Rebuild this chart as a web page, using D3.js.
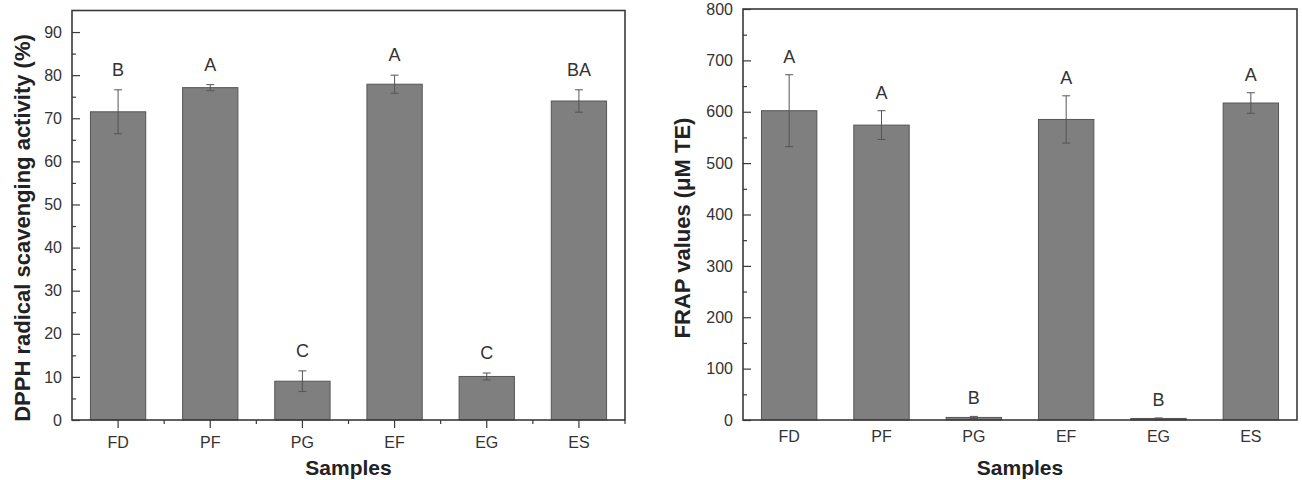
<!DOCTYPE html>
<html>
<head>
<meta charset="utf-8">
<script src="https://cdn.jsdelivr.net/npm/d3@7"></script>
<style>
  html, body { margin: 0; padding: 0; background: #fff; }
  svg { display: block; font-family: "Liberation Sans", Arial, sans-serif; }
</style>
</head>
<body>
<svg id="chart" width="1302" height="480"></svg>
<script>
// ---- data ----
const categories = ["FD", "PF", "PG", "EF", "EG", "ES"];

const dpphValues = [71.5, 77.1, 9.0, 77.9, 10.1, 74.0];
const dpphErrors = [5.1, 0.7, 2.4, 2.1, 0.8, 2.6];
const dpphLetters = ["B", "A", "C", "A", "C", "BA"];
const dpphTicks = [0, 10, 20, 30, 40, 50, 60, 70, 80, 90];

const frapValues = [602, 574, 5, 585, 3, 617];
const frapErrors = [70, 28, 2, 46, 1, 20];
const frapLetters = ["A", "A", "B", "A", "B", "A"];
const frapTicks = [0, 100, 200, 300, 400, 500, 600, 700, 800];

// ---- drawing ----
const svg = d3.select("#chart");
const axisColor = "#3a3a3a";
const textColor = "#333";
const barFill = "#7f7f7f";
const barStroke = "#555";

function drawPanel(opt) {
  const { left, right, top, bottom, yMax, ticks, minorStep, values, errors, letters,
          yTitle, xTicks, letterGap, titleX, xLabelPad } = opt;
  const g = svg.append("g");
  const x = d3.scaleBand().domain(categories).range([left, right]).paddingInner(0).paddingOuter(0);
  const y = d3.scaleLinear().domain([0, yMax]).range([bottom, top]);
  const bw = x.bandwidth() * 0.6;

  // bars
  g.selectAll("rect.bar").data(categories).join("rect")
    .attr("x", d => x(d) + (x.bandwidth() - bw) / 2)
    .attr("y", (d, i) => y(values[i]))
    .attr("width", bw)
    .attr("height", (d, i) => y(0) - y(values[i]))
    .attr("fill", barFill)
    .attr("stroke", barStroke)
    .attr("stroke-width", 1);

  // error bars
  const eb = g.selectAll("g.err").data(categories).join("g");
  eb.append("line")
    .attr("x1", d => x(d) + x.bandwidth() / 2).attr("x2", d => x(d) + x.bandwidth() / 2)
    .attr("y1", (d, i) => y(values[i] + errors[i])).attr("y2", (d, i) => y(values[i] - errors[i]))
    .attr("stroke", "#555").attr("stroke-width", 1);
  [1, -1].forEach(s => {
    eb.append("line")
      .attr("x1", d => x(d) + x.bandwidth() / 2 - 4).attr("x2", d => x(d) + x.bandwidth() / 2 + 4)
      .attr("y1", (d, i) => y(values[i] + s * errors[i])).attr("y2", (d, i) => y(values[i] + s * errors[i]))
      .attr("stroke", "#555").attr("stroke-width", 1);
  });

  // letters
  g.selectAll("text.letter").data(categories).join("text")
    .attr("x", d => x(d) + x.bandwidth() / 2)
    .attr("y", (d, i) => y(values[i] + errors[i]) - letterGap)
    .attr("text-anchor", "middle")
    .attr("font-size", 18)
    .attr("fill", textColor)
    .text((d, i) => letters[i]);

  // y axis (inward ticks)
  const yAxis = d3.axisLeft(y).tickValues(ticks).tickSize(-8).tickPadding(10).tickFormat(d3.format("d"));
  const ya = g.append("g").attr("transform", `translate(${left},0)`).call(yAxis);
  ya.select(".domain").remove();
  ya.selectAll("line").attr("stroke", axisColor).attr("stroke-width", 1.2);
  ya.selectAll("text").attr("font-size", 16).attr("fill", textColor)
    .attr("font-family", "Liberation Sans, Arial, sans-serif");
  // minor y ticks
  const minor = d3.range(minorStep, yMax, minorStep * 2);
  const ym = d3.axisLeft(y).tickValues(minor).tickSize(-4).tickFormat("");
  const yma = g.append("g").attr("transform", `translate(${left},0)`).call(ym);
  yma.select(".domain").remove();
  yma.selectAll("line").attr("stroke", axisColor).attr("stroke-width", 1.2);

  // x axis
  const xAxis = d3.axisBottom(x).tickSize(xTicks ? 8 : 0).tickPadding(xLabelPad);
  const xa = g.append("g").attr("transform", `translate(0,${bottom})`).call(xAxis);
  xa.select(".domain").remove();
  xa.selectAll("line").attr("stroke", axisColor).attr("stroke-width", 1.2);
  xa.selectAll("text").attr("font-size", 16).attr("fill", textColor)
    .attr("font-family", "Liberation Sans, Arial, sans-serif");
  if (xTicks) {
    const bounds = categories.slice(1).map(c => x(c)).concat([right]);
    g.selectAll("line.xminor").data(bounds).join("line")
      .attr("x1", d => d).attr("x2", d => d)
      .attr("y1", bottom).attr("y2", bottom + 4)
      .attr("stroke", axisColor).attr("stroke-width", 1.2);
  }

  // frame
  g.append("rect")
    .attr("x", left).attr("y", top)
    .attr("width", right - left).attr("height", bottom - top)
    .attr("fill", "none").attr("stroke", axisColor).attr("stroke-width", 1.6);

  // titles
  g.append("text")
    .attr("transform", `translate(${titleX},228) rotate(-90)`)
    .attr("text-anchor", "middle")
    .attr("font-size", 22).attr("font-weight", "bold").attr("fill", "#222")
    .text(yTitle);
  g.append("text")
    .attr("x", (left + right) / 2).attr("y", 475)
    .attr("text-anchor", "middle")
    .attr("font-size", 21).attr("font-weight", "bold").attr("fill", "#222")
    .text("Samples");
}

drawPanel({
  left: 72, right: 625, top: 10.5, bottom: 420, yMax: 95,
  ticks: dpphTicks, minorStep: 5,
  values: dpphValues, errors: dpphErrors, letters: dpphLetters,
  yTitle: "DPPH radical scavenging activity (%)", xTicks: true, letterGap: 14, titleX: 30,
  xLabelPad: 9
});

drawPanel({
  left: 743, right: 1297, top: 9, bottom: 420, yMax: 800,
  ticks: frapTicks, minorStep: 50,
  values: frapValues, errors: frapErrors, letters: frapLetters,
  yTitle: "FRAP values (\u03bcM TE)", xTicks: false, letterGap: 12, titleX: 690,
  xLabelPad: 11
});
</script>
</body>
</html>
